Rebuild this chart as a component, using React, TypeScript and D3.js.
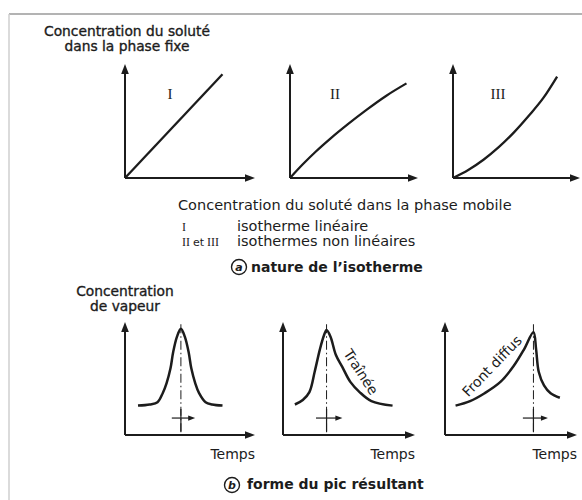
import * as d3 from 'd3';

type Pt = [number, number];

// isothermes : concentration dans la phase mobile (x) / phase fixe (y), échelle 0-100
const isothermLinear: Pt[] = [[0, 0], [75, 91]];
const isothermConcave: Pt[] = [[0, 0], [10, 12], [20, 23], [32, 35], [45, 47], [60, 60], [75, 72], [91, 83]];
const isothermConvex: Pt[] = [[0, 0], [12, 7], [24, 16], [36, 27], [48, 40], [60, 55], [71, 70], [82, 89]];
const isothermLabels = ['I', 'II', 'III'];

// pics : temps (x) / concentration de vapeur (y), échelle 0-100
const peakSymmetric: Pt[] = [
  [10, 26], [19, 27], [25, 29], [29, 37], [32, 46], [35, 59], [37, 73], [40, 87], [43, 94],
  [46, 87], [49, 73], [51, 59], [54, 46], [57, 37], [62, 29], [67, 27], [75, 26],
];
const peakTailing: Pt[] = [
  [9, 27], [15, 31], [20, 38], [24, 56], [28, 76], [31, 88], [33, 93], [36, 87], [40, 71],
  [45, 60], [51, 47], [58, 38], [67, 30], [83, 26],
];
const peakFronting: Pt[] = [
  [8, 26], [19, 30], [30, 37], [42, 47], [52, 61], [60, 76], [67, 91], [69, 76], [71, 56],
  [75, 44], [80, 37], [87, 33],
];
const peakRetention = [43, 33, 67];
const shiftMarkers: Pt[] = [[36, 54], [25, 45], [59, 78]];
const peakNotes = ['', 'Traînée', 'Front diffus'];

const INK = '#1c1c1c';
const SANS = '"DejaVu Sans", sans-serif';
const SERIF = '"Liberation Serif", "DejaVu Serif", serif';

function Axes({ x, y }: { x: d3.ScaleLinear<number, number>; y: d3.ScaleLinear<number, number> }) {
  const [x0, x1] = x.range();
  const [y0, y1] = y.range();
  return (
    <g>
      <g stroke={INK} strokeWidth={2}>
        <line x1={x0} y1={y0} x2={x0} y2={y1 + 6} />
        <line x1={x0} y1={y0} x2={x1 - 6} y2={y0} />
      </g>
      <path d={`M${x0},${y1} L${x0 - 3.8},${y1 + 10} L${x0 + 3.8},${y1 + 10} Z`} fill={INK} />
      <path d={`M${x1},${y0} L${x1 - 10},${y0 - 3.8} L${x1 - 10},${y0 + 3.8} Z`} fill={INK} />
    </g>
  );
}

export default function App() {
  const peakLine = d3.line<Pt>().curve(d3.curveCatmullRom.alpha(0.5));
  const isoLine = d3.line<Pt>().curve(d3.curveMonotoneX);

  const topOrigins = [125, 290, 453];
  const topWidths = [130, 128, 127];
  const isotherms = [isothermLinear, isothermConcave, isothermConvex];

  const botOrigins = [125, 283, 445];
  const botWidths = [130, 132, 132];
  const peaks = [peakSymmetric, peakTailing, peakFronting];

  return (
    <div style={{ position: 'absolute', left: 0, top: 0 }}>
      <svg width={582} height={500} style={{ display: 'block', background: '#fff' }}>
        {/* cadre */}
        <line x1={9} y1={14} x2={582} y2={14} stroke="#9a9a9a" strokeWidth={1.5} />
        <line x1={9} y1={14} x2={9} y2={500} stroke="#cfcfcf" strokeWidth={1.5} />

        {/* (a) isothermes */}
        <g fontFamily={SANS} fontSize={13.8} fill={INK}>
          <text x={127} y={36} textAnchor="middle" stroke={INK} strokeWidth={0.35}>Concentration du soluté</text>
          <text x={127} y={51} textAnchor="middle" stroke={INK} strokeWidth={0.35}>dans la phase fixe</text>
        </g>
        {isotherms.map((pts, i) => {
          const ox = topOrigins[i];
          const x = d3.scaleLinear().domain([0, 100]).range([ox, ox + topWidths[i]]);
          const y = d3.scaleLinear().domain([0, 100]).range([178, 64]);
          return (
            <g key={i}>
              <Axes x={x} y={y} />
              <path d={isoLine(pts.map(([a, b]) => [x(a), y(b)] as Pt)) || ''} fill="none" stroke={INK} strokeWidth={2.3} />
              <text x={ox + 45} y={99} textAnchor="middle" fontFamily={SERIF} fontSize={15} fill={INK}>
                {isothermLabels[i]}
              </text>
            </g>
          );
        })}
        <g fontFamily={SANS} fill={INK}>
          <text x={178} y={210} fontSize={14.5}>Concentration du soluté dans la phase mobile</text>
          <text x={182} y={231} fontFamily={SERIF} fontSize={12}>I</text>
          <text x={237} y={231} fontSize={14.5}>isotherme linéaire</text>
          <text x={182} y={246} fontSize={11}>
            <tspan fontFamily={SERIF} fontSize={12}>II</tspan>
            <tspan dx={3}>et</tspan>
            <tspan dx={3} fontFamily={SERIF} fontSize={12}>III</tspan>
          </text>
          <text x={237} y={246} fontSize={14.5}>isothermes non linéaires</text>
          <circle cx={239} cy={267} r={7.5} fill="none" stroke={INK} strokeWidth={1.4} />
          <text x={239} y={271} textAnchor="middle" fontSize={11} fontWeight="bold" fontStyle="italic">a</text>
          <text x={251} y={272} fontSize={14} fontWeight="bold">nature de l’isotherme</text>
        </g>

        {/* (b) pics */}
        <g fontFamily={SANS} fontSize={13.8} fill={INK}>
          <text x={125} y={296} textAnchor="middle" stroke={INK} strokeWidth={0.35}>Concentration</text>
          <text x={125} y={311} textAnchor="middle" stroke={INK} strokeWidth={0.35}>de vapeur</text>
        </g>
        {peaks.map((pts, i) => {
          const ox = botOrigins[i];
          const x = d3.scaleLinear().domain([0, 100]).range([ox, ox + botWidths[i]]);
          const y = d3.scaleLinear().domain([0, 100]).range([435, 322]);
          const px = x(peakRetention[i]);
          const [m0, m1] = shiftMarkers[i];
          const my = y(15);
          const mx = x(m1);
          return (
            <g key={i}>
              <Axes x={x} y={y} />
              <line x1={px} y1={y(98)} x2={px} y2={y(0)} stroke={INK} strokeWidth={1} strokeDasharray="9,3,1.5,3" />
              <line x1={px} y1={y(23)} x2={px} y2={y(3)} stroke={INK} strokeWidth={1.2} />
              <line x1={x(m0)} y1={my} x2={mx - 5} y2={my} stroke={INK} strokeWidth={1.2} />
              <path d={`M${mx},${my} L${mx - 7},${my - 2.6} L${mx - 7},${my + 2.6} Z`} fill={INK} />
              <path d={peakLine(pts.map(([a, b]) => [x(a), y(b)] as Pt)) || ''} fill="none" stroke={INK} strokeWidth={2.5} />
              <text x={x(100)} y={459} textAnchor="end" fontFamily={SANS} fontSize={14} fill={INK}>Temps</text>
            </g>
          );
        })}
        <g fontFamily={SANS} fontSize={14} fill={INK}>
          <text transform="translate(361,372) rotate(57)" textAnchor="middle" dy="0.35em">{peakNotes[1]}</text>
          <text transform="translate(492,366) rotate(-46)" textAnchor="middle" dy="0.35em">{peakNotes[2]}</text>
          <circle cx={232} cy={485} r={7.5} fill="none" stroke={INK} strokeWidth={1.4} />
          <text x={232} y={489} textAnchor="middle" fontSize={11} fontWeight="bold" fontStyle="italic">b</text>
          <text x={247} y={489} fontWeight="bold">forme du pic résultant</text>
        </g>
      </svg>
    </div>
  );
}
